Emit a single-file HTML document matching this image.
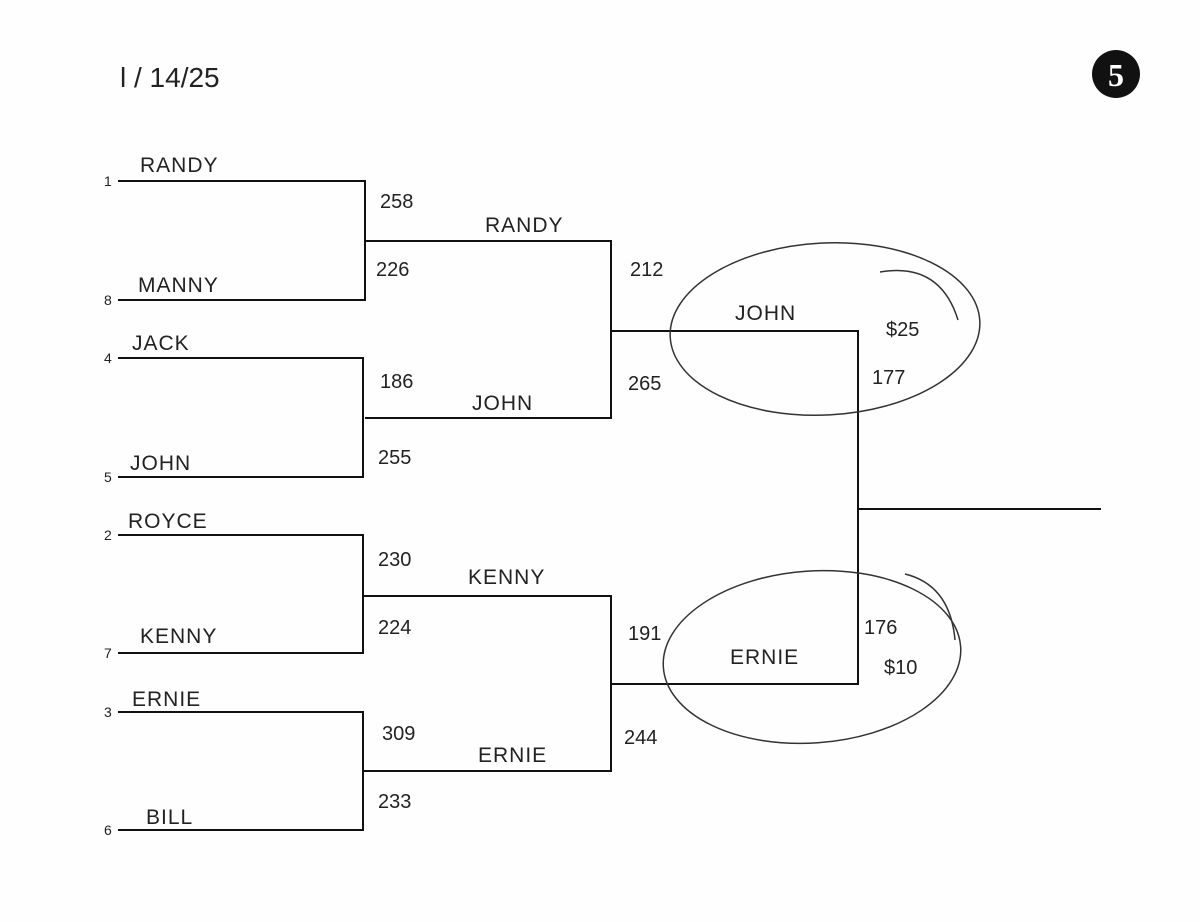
<!DOCTYPE html>
<html><head><meta charset="utf-8"><style>
body{margin:0;background:#fff}
svg{display:block}
text{font-family:"Liberation Sans",sans-serif;fill:#222}
.h{font-size:21px;letter-spacing:1px}
.s{font-family:"Liberation Serif",serif;font-size:14px}
.n{font-size:20px}
</style></head><body>
<svg width="1200" height="922" viewBox="0 0 1200 922" xmlns="http://www.w3.org/2000/svg">
<rect width="1200" height="922" fill="#fefefe"/>
<g stroke="#111" stroke-width="2" fill="none">
<path d="M118 181H365V300H118"/>
<path d="M118 358H363V477H118"/>
<path d="M118 535H363V653H118"/>
<path d="M118 712H363V830H118"/>
<path d="M365 241H611V418H365"/>
<path d="M363 596H611V771H363"/>
<path d="M611 331H858V684H611"/>
<path d="M858 509H1101"/>
</g>
<g stroke="#333" stroke-width="1.5" fill="none">
<ellipse cx="825" cy="329" rx="155" ry="86" transform="rotate(-3 825 329)"/>
<ellipse cx="812" cy="657" rx="149" ry="86" transform="rotate(-4 812 657)"/>
<path d="M880 272 Q940 262 958 320"/>
<path d="M905 574 Q950 585 955 640"/>
</g>
<circle cx="1116" cy="74" r="24" fill="#111"/>
<text x="1116" y="86" text-anchor="middle" style="font-family:'Liberation Serif',serif;font-size:32px;font-weight:bold;fill:#fff">5</text>
<text x="120" y="87" style="font-size:28px">l / 14/25</text>
<g class="s">
<text x="104" y="186">1</text><text x="104" y="305">8</text>
<text x="104" y="363">4</text><text x="104" y="482">5</text>
<text x="104" y="540">2</text><text x="104" y="658">7</text>
<text x="104" y="717">3</text><text x="104" y="835">6</text>
</g>
<g class="h">
<text x="140" y="172">RANDY</text>
<text x="138" y="292">MANNY</text>
<text x="132" y="350">JACK</text>
<text x="130" y="470">JOHN</text>
<text x="128" y="528">ROYCE</text>
<text x="140" y="643">KENNY</text>
<text x="132" y="706">ERNIE</text>
<text x="146" y="824">BILL</text>
<text x="485" y="232">RANDY</text>
<text x="472" y="410">JOHN</text>
<text x="468" y="584">KENNY</text>
<text x="478" y="762">ERNIE</text>
<text x="735" y="320">JOHN</text>
<text x="730" y="664">ERNIE</text>
</g>
<g class="n">
<text x="380" y="208">258</text>
<text x="376" y="276">226</text>
<text x="380" y="388">186</text>
<text x="378" y="464">255</text>
<text x="378" y="566">230</text>
<text x="378" y="634">224</text>
<text x="382" y="740">309</text>
<text x="378" y="808">233</text>
<text x="630" y="276">212</text>
<text x="628" y="390">265</text>
<text x="628" y="640">191</text>
<text x="624" y="744">244</text>
<text x="886" y="336">$25</text>
<text x="872" y="384">177</text>
<text x="864" y="634">176</text>
<text x="884" y="674">$10</text>
</g>
</svg>
</body></html>
